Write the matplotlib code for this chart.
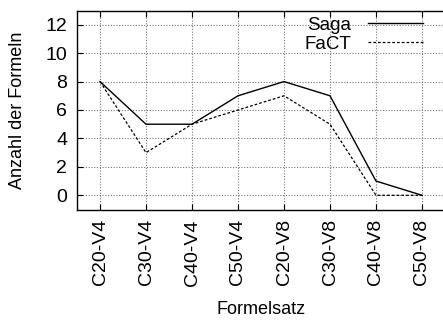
import matplotlib
matplotlib.use("Agg")
import matplotlib.pyplot as plt

formelsatz = ["C20-V4", "C30-V4", "C40-V4", "C50-V4",
              "C20-V8", "C30-V8", "C40-V8", "C50-V8"]
saga = [8, 5, 5, 7, 8, 7, 1, 0]
fact = [8, 3, 5, 6, 7, 5, 0, 0]

plt.rcParams['font.family'] = ['Liberation Sans', 'DejaVu Sans']

fig = plt.figure(figsize=(4.43, 3.2), dpi=100)
ax = fig.add_axes([77 / 443, 1 - 209.5 / 320, 368 / 443, (209.5 - 10.5) / 320])

x = range(len(formelsatz))
ax.plot(x, saga, color='black', linewidth=1.0, label='Saga')
ax.plot(x, fact, color='black', linewidth=0.9, linestyle=(0, (2.2, 1.6)), label='FaCT')

ax.set_xlim(-0.5, len(formelsatz) - 0.5)
ax.set_ylim(-1, 13)
ax.set_yticks(range(0, 13, 2))
ax.set_xticks(list(x))
ax.set_xticklabels(formelsatz, rotation=90)

ax.grid(True, color='#777777', linestyle=(0, (1, 1.5)), linewidth=0.8)
# right edge of the frame is cut off in the original
ax.tick_params(direction='in', top=True, right=False, length=4, width=0.8,
               labelsize=14, pad=7)
for s in ax.spines.values():
    s.set_linewidth(1.0)
ax.spines['right'].set_visible(False)

ax.set_xlabel("Formelsatz", fontsize=13, labelpad=11)
ax.set_ylabel("Anzahl der Formeln", fontsize=13, labelpad=14)

leg = ax.legend(loc='upper right', bbox_to_anchor=(0.97, 1.025), frameon=False,
                markerfirst=False, handlelength=2.9, labelspacing=0.1,
                handletextpad=0.9, borderaxespad=0.2, fontsize=13.5)
for t in leg.get_texts():
    t.set_ha('right')

fig.savefig("out.png", dpi=100)
